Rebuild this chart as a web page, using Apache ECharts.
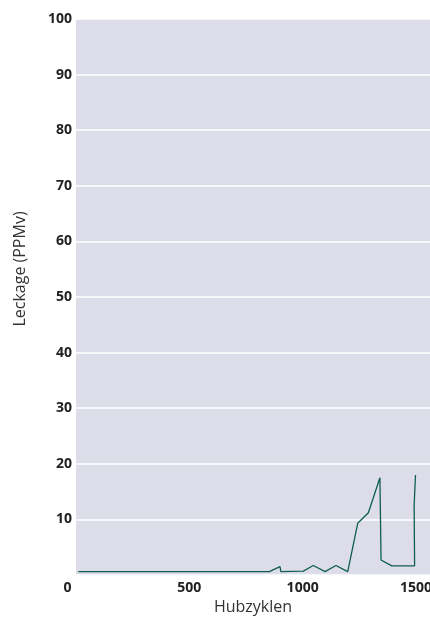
<!DOCTYPE html>
<html>
<head>
<meta charset="utf-8">
<script src="https://cdn.jsdelivr.net/npm/echarts@6/dist/echarts.min.js"></script>
<style>
  html, body { margin: 0; padding: 0; background: #fff; }
  #chart { width: 430px; height: 619px; }
</style>
</head>
<body>
<div id="chart"></div>
<script>
// Hubzyklen / Leckage (PPMv)
const cycles = [10, 853, 900, 904, 1003, 1047, 1099, 1147, 1199, 1243, 1290, 1341, 1346, 1393, 1494, 1492, 1498];
const leakage = [0.6, 0.6, 1.5, 0.6, 0.7, 1.7, 0.6, 1.7, 0.6, 9.3, 11.2, 17.5, 2.7, 1.65, 1.65, 12.5, 18.0];
const yTicks = [0, 10, 20, 30, 40, 50, 60, 70, 80, 90, 100];
const xTicks = [0, 500, 1000, 1500];

let chart = echarts.init(document.getElementById("chart"));

let points = cycles.map((c, i) => [c, leakage[i]]);

let option = {
  animation: false,
  textStyle: { fontFamily: "Open Sans" },
  grid: {
    left: 76,
    right: 0,
    top: 19,
    bottom: 44,
    outerBoundsMode: "none",
    show: true,
    backgroundColor: "#dcdde8",
    borderWidth: 0
  },
  xAxis: {
    type: "value",
    min: xTicks[0],
    max: 1562,
    interval: 500,
    name: "Hubzyklen",
    nameLocation: "middle",
    nameGap: 24,
    nameTextStyle: { fontSize: 16, color: "#333", fontFamily: "Open Sans" },
    axisLine: { show: false },
    axisTick: { show: false },
    splitLine: { show: false },
    axisLabel: {
      showMaxLabel: false,
      margin: 6,
      fontSize: 14,
      fontWeight: "bold",
      color: "#222",
      formatter: function (v) {
        return v === 0 ? "{z|0}" : String(v);
      },
      rich: {
        z: { fontSize: 14, fontWeight: "bold", color: "#222", padding: [0, 17, 0, 0] }
      }
    }
  },
  yAxis: {
    type: "value",
    min: yTicks[0],
    max: yTicks[yTicks.length - 1],
    interval: 10,
    name: "Leckage (PPMv)",
    nameLocation: "middle",
    nameGap: 48,
    nameTextStyle: {
      fontSize: 16,
      color: "#333",
      fontFamily: "Open Sans",
      padding: [0, 0, 0, 56]
    },
    axisLine: { show: false },
    axisTick: { show: false },
    axisLabel: {
      showMinLabel: false,
      margin: 4,
      fontSize: 14,
      fontWeight: "bold",
      color: "#222"
    },
    splitLine: { lineStyle: { color: "#ffffff", width: 1.5 } }
  },
  series: [
    {
      type: "line",
      data: points,
      symbol: "none",
      lineStyle: { color: "#0d5e4f", width: 1.3 }
    }
  ]
};

chart.setOption(option);
</script>
</body>
</html>
